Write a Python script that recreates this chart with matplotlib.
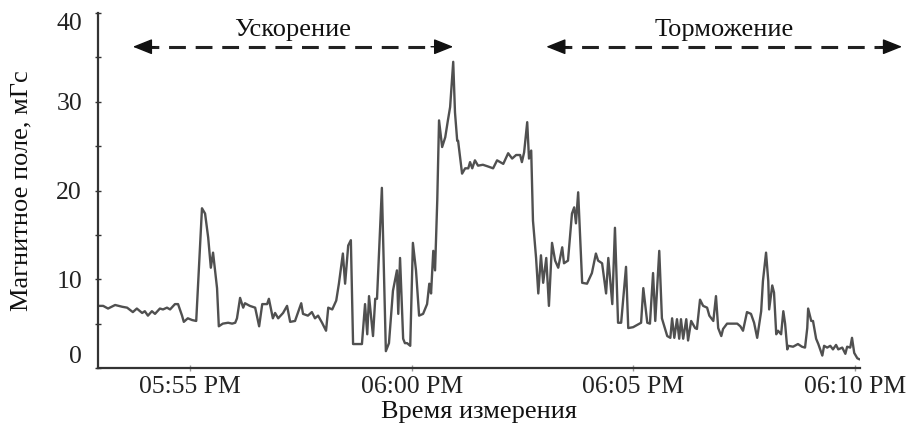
import matplotlib
matplotlib.use("Agg")
import matplotlib.pyplot as plt
from matplotlib.patches import ArrowStyle

# ---- data (minutes after 05:55 PM, magnetic field in mG) ----
minutes = [
    -2.08, -1.96, -1.85, -1.69, -1.53, -1.42, -1.29, -1.20, -1.08, -1.02,
    -0.95, -0.86, -0.79, -0.68, -0.61, -0.52, -0.45, -0.34, -0.27, -0.18,
    -0.14, -0.05, 0.05, 0.14, 0.27, 0.34, 0.41, 0.47, 0.52, 0.61,
    0.65, 0.74, 0.86, 0.95, 1.02, 1.06, 1.13, 1.20, 1.24, 1.35,
    1.47, 1.56, 1.63, 1.74, 1.78, 1.87, 1.92, 1.99, 2.10, 2.19,
    2.26, 2.37, 2.51, 2.55, 2.66, 2.75, 2.82, 2.89, 2.98, 3.07,
    3.12, 3.21, 3.30, 3.36, 3.45, 3.50, 3.57, 3.63, 3.68, 3.88,
    3.95, 4.00, 4.04, 4.13, 4.18, 4.22, 4.33, 4.42, 4.49, 4.58,
    4.67, 4.70, 4.74, 4.81, 4.85, 4.90, 4.97, 5.03, 5.10, 5.17,
    5.26, 5.35, 5.40, 5.44, 5.49, 5.53, 5.58, 5.62, 5.69, 5.76,
    5.82, 5.87, 5.94, 5.98, 6.03, 6.05, 6.14, 6.21, 6.28, 6.32,
    6.37, 6.43, 6.50, 6.61, 6.73, 6.84, 6.93, 7.07, 7.18, 7.27,
    7.36, 7.45, 7.49, 7.54, 7.61, 7.65, 7.70, 7.74, 7.81, 7.86,
    7.92, 7.97, 8.04, 8.10, 8.17, 8.24, 8.31, 8.40, 8.44, 8.53,
    8.62, 8.67, 8.71, 8.76, 8.85, 8.96, 9.07, 9.16, 9.21, 9.30,
    9.39, 9.44, 9.53, 9.59, 9.66, 9.73, 9.84, 9.89, 10.00, 10.11,
    10.18, 10.23, 10.32, 10.38, 10.45, 10.50, 10.59, 10.65, 10.77, 10.84,
    10.88, 10.93, 10.99, 11.04, 11.08, 11.13, 11.20, 11.24, 11.31, 11.40,
    11.44, 11.51, 11.58, 11.67, 11.72, 11.81, 11.87, 11.92, 11.99, 12.03,
    12.12, 12.23, 12.35, 12.42, 12.48, 12.57, 12.66, 12.73, 12.80, 12.89,
    12.93, 13.00, 13.05, 13.07, 13.14, 13.18, 13.23, 13.27, 13.34, 13.39,
    13.43, 13.48, 13.50, 13.61, 13.72, 13.81, 13.88, 13.93, 13.95, 14.02,
    14.06, 14.13, 14.18, 14.27, 14.31, 14.38, 14.45, 14.51, 14.58, 14.63,
    14.72, 14.79, 14.83, 14.90, 14.94, 14.99, 15.06, 15.10,
]
field_mG = [
    7.0, 7.0, 6.7, 7.1, 6.9, 6.8, 6.3, 6.7, 6.2, 6.4,
    5.9, 6.4, 6.1, 6.7, 6.6, 6.8, 6.6, 7.2, 7.2, 5.9,
    5.2, 5.6, 5.4, 5.3, 18.0, 17.4, 14.7, 11.3, 13.0, 9.0,
    4.7, 5.0, 5.1, 5.0, 5.1, 5.6, 7.9, 6.8, 7.3, 7.0,
    6.8, 4.7, 7.2, 7.2, 7.8, 5.6, 6.2, 5.6, 6.2, 7.0,
    5.2, 5.3, 7.3, 6.1, 5.9, 6.3, 5.6, 5.9, 5.1, 4.2,
    6.8, 6.6, 7.6, 9.5, 12.9, 9.5, 13.8, 14.4, 2.7, 2.7,
    7.2, 3.8, 8.1, 3.6, 7.8, 7.8, 20.3, 1.9, 2.8, 8.7,
    11.0, 6.1, 12.4, 3.3, 2.8, 2.8, 2.5, 14.1, 11.0, 5.9,
    6.1, 7.2, 9.5, 8.4, 13.2, 11.0, 18.9, 27.9, 24.9, 26.0,
    27.9, 29.4, 34.5, 28.8, 25.6, 25.6, 21.9, 22.5, 22.5, 23.2,
    22.5, 23.4, 22.8, 22.9, 22.7, 22.5, 23.4, 23.0, 24.2, 23.6,
    24.0, 24.0, 23.2, 24.3, 27.7, 23.6, 24.5, 16.6, 12.4, 8.4,
    12.7, 9.6, 12.4, 7.0, 14.1, 12.1, 11.3, 13.6, 11.8, 12.1,
    17.4, 18.1, 16.3, 19.8, 9.6, 9.5, 10.7, 12.9, 12.1, 11.8,
    8.4, 12.4, 7.2, 15.8, 5.1, 5.1, 11.4, 4.5, 4.6, 4.9,
    5.1, 9.0, 5.1, 5.0, 10.7, 5.3, 13.2, 5.6, 3.6, 3.4,
    5.6, 3.4, 5.5, 3.3, 5.5, 3.3, 5.5, 3.1, 5.3, 4.5,
    4.4, 7.7, 7.0, 6.8, 5.9, 5.3, 8.1, 4.5, 3.6, 4.4,
    5.0, 5.0, 5.0, 4.7, 4.2, 6.3, 6.1, 5.1, 3.4, 6.4,
    9.8, 13.0, 9.8, 6.6, 9.3, 8.5, 3.8, 4.2, 3.8, 6.4,
    5.0, 2.1, 2.5, 2.4, 2.7, 2.4, 2.3, 4.5, 6.7, 5.3,
    5.3, 3.3, 2.7, 1.4, 2.5, 2.3, 2.5, 2.1, 2.6, 2.1,
    2.3, 1.6, 2.4, 2.3, 3.4, 1.7, 1.1, 1.0,
]
tick_minutes = [0, 5, 10, 15]
tick_labels = ["05:55 PM", "06:00 PM", "06:05 PM", "06:10 PM"]
y_ticks = [0, 10, 20, 30, 40]
phase_names = ["Ускорение", "Торможение"]
phase_start = [-1.29, 8.04]
phase_end = [5.94, 16.07]
phase_level = 36.2

plt.rcParams["font.family"] = ["Liberation Serif", "DejaVu Serif"]

fig = plt.figure(figsize=(9.14, 4.25), dpi=100)
ax = fig.add_axes([0.1072, 0.1341, 0.8337, 0.8353])

ax.plot(minutes, field_mG, color="#505050", lw=1.7, solid_joinstyle="round")

ax.set_xlim(-2.077, 15.12)
ax.set_ylim(0, 40)
ax.set_xticks(tick_minutes)
ax.set_xticklabels(tick_labels)
ax.set_yticks(y_ticks)
ax.set_yticks([5, 15, 25, 35], minor=True)
ax.tick_params(axis="both", which="major", labelsize=18.5, colors="#222222")
ax.tick_params(axis="y", which="both", direction="inout", length=5, width=1,
               color="#333333", pad=9)
ax.tick_params(axis="x", which="major", direction="inout", length=4, width=1,
               color="#999999", pad=4)
ylabels = ax.get_yticklabels()
ylabels[0].set_va("bottom")
ylabels[-1].set_va("top")

for s in ["top", "right"]:
    ax.spines[s].set_visible(False)
for s in ["left", "bottom"]:
    ax.spines[s].set_color("#333333")
    ax.spines[s].set_linewidth(1.6)

ax.set_ylabel("Магнитное поле, мГс", fontsize=19, labelpad=17, color="#111111")
ax.set_xlabel("Время измерения", fontsize=19, labelpad=2, color="#111111")

head = ArrowStyle("-|>", head_length=12, head_width=4.8)
for name, x0, x1 in zip(phase_names, phase_start, phase_end):
    ax.plot([x0 + 0.2, x1 - 0.2], [phase_level, phase_level], color="#222222",
            lw=2.2, ls=(0, (5.5, 3.2)), clip_on=False)
    for tip, tail in [(x0, x0 + 0.5), (x1, x1 - 0.5)]:
        ax.annotate("", xy=(tip, phase_level), xytext=(tail, phase_level),
                    arrowprops=dict(arrowstyle=head, color="#111111", lw=1,
                                    shrinkA=0, shrinkB=0, mutation_scale=1),
                    annotation_clip=False)
    ax.text((x0 + x1) / 2, phase_level + 0.6, name, fontsize=19,
            ha="center", va="bottom", color="#111111")

fig.savefig("out.png", dpi=100)
